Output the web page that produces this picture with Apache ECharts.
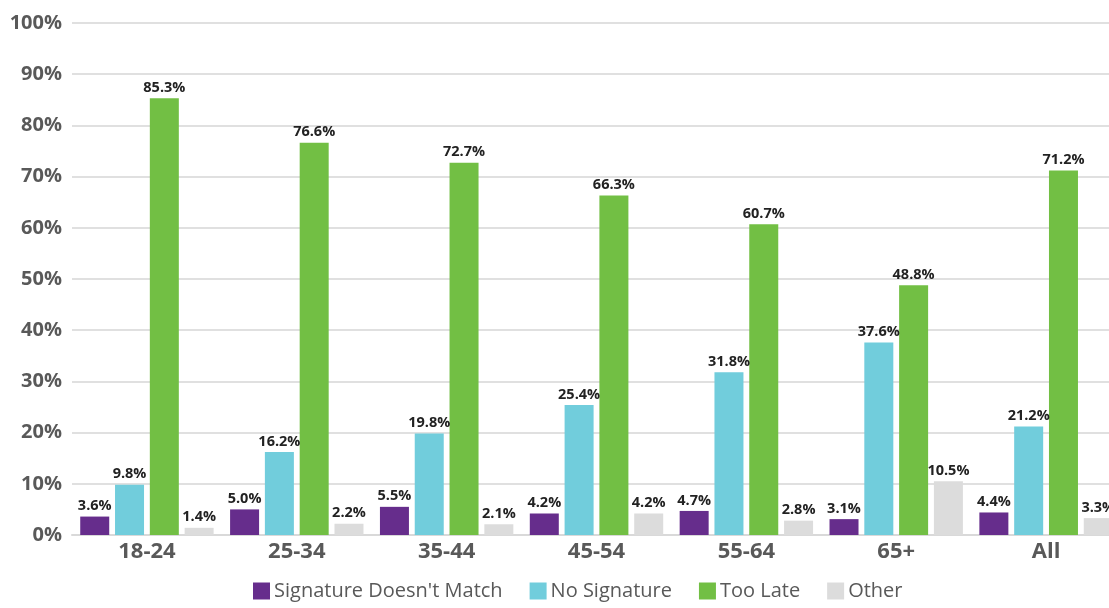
<!DOCTYPE html>
<html lang="en">
<head>
    <meta charset="UTF-8">
    <title>Rejected ballots by age</title>
    <script src="https://cdn.jsdelivr.net/npm/echarts@6/dist/echarts.min.js"></script>
    <style>
        html, body { margin: 0; padding: 0; background: #fff; }
    </style>
</head>
<body>
<div id="main" style="width: 1109px;height:608px;"></div>
<script type="text/javascript">
    // data
    var categories = ['18-24', '25-34', '35-44', '45-54', '55-64', '65+', 'All'];
    var seriesNames = ["Signature Doesn't Match", 'No Signature', 'Too Late', 'Other'];
    var sigMismatch = [3.6, 5.0, 5.5, 4.2, 4.7, 3.1, 4.4];
    var noSignature = [9.8, 16.2, 19.8, 25.4, 31.8, 37.6, 21.2];
    var tooLate = [85.3, 76.6, 72.7, 66.3, 60.7, 48.8, 71.2];
    var other = [1.4, 2.2, 2.1, 4.2, 2.8, 10.5, 3.3];
    var colors = ['#662d8c', '#71cddc', '#72bf44', '#dcdcdc'];

    var myChart = echarts.init(document.getElementById('main'));

    function makeSeries(name, data, color) {
        return {
            name: name,
            type: 'bar',
            data: data,
            barWidth: 29,
            barGap: '20%',
            itemStyle: { color: color },
            label: {
                show: true,
                position: 'top',
                distance: 3,
                formatter: function (p) { return p.value.toFixed(1) + '%'; },
                fontFamily: "'Open Sans', sans-serif",
                fontWeight: 'bold',
                fontSize: 14.5,
                color: '#222'
            }
        };
    }

    var option = {
        animation: false,
        grid: { left: 72, right: -12, top: 23, bottom: 73, containLabel: false, outerBoundsMode: 'none' },
        legend: {
            bottom: 2,
            left: 248,
            itemWidth: 17,
            itemHeight: 17,
            itemGap: 27,
            icon: 'rect',
            textStyle: { fontSize: 20, color: '#595959', fontFamily: "'Open Sans', sans-serif", padding: [0, 0, 0, -1] },
            data: seriesNames
        },
        xAxis: {
            type: 'category',
            data: categories,
            axisTick: { show: false },
            axisLine: { lineStyle: { color: '#d9d9d9', width: 2 } },
            axisLabel: {
                fontSize: 22,
                fontWeight: 'bold',
                color: '#595959',
                margin: 6,
                fontFamily: "'Open Sans', sans-serif"
            }
        },
        yAxis: {
            type: 'value',
            min: 0,
            max: 100,
            interval: 10,
            axisLine: { show: false },
            axisTick: { show: false },
            splitLine: { lineStyle: { color: '#e0e0e0', width: 2 } },
            axisLabel: {
                formatter: '{value}%',
                fontSize: 20,
                fontWeight: 'bold',
                color: '#595959',
                margin: 10,
                fontFamily: "'Open Sans', sans-serif"
            }
        },
        series: [
            makeSeries(seriesNames[0], sigMismatch, colors[0]),
            makeSeries(seriesNames[1], noSignature, colors[1]),
            makeSeries(seriesNames[2], tooLate, colors[2]),
            makeSeries(seriesNames[3], other, colors[3])
        ]
    };

    myChart.setOption(option);
</script>
</body>
</html>
